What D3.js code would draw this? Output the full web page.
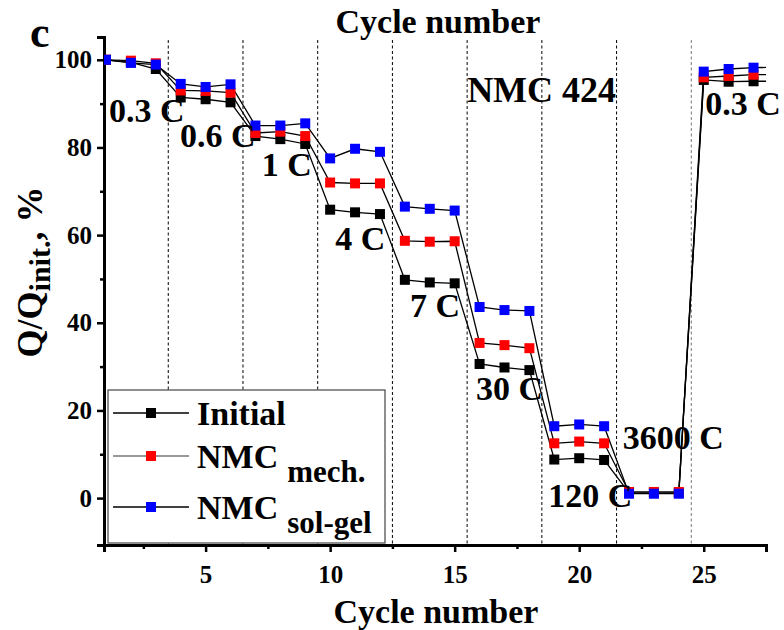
<!DOCTYPE html>
<html>
<head>
<meta charset="utf-8">
<script src="https://cdn.jsdelivr.net/npm/d3@7"></script>
<style>
  body { margin: 0; background: #fff; }
  svg { display: block; }
  text { font-family: "Liberation Serif", "Times New Roman", serif; font-weight: bold; fill: #000; }
</style>
</head>
<body>
<div id="chart"></div>
<script>
// ---------------- data ----------------
const cycles = [1,2,3,4,5,6,7,8,9,10,11,12,13,14,15,16,17,18,19,20,21,22,23,24,25,26,27,28];
const initialValues = [100,99.4,97.9,91.4,91.0,90.3,82.6,81.9,80.8,65.8,65.2,64.8,49.8,49.2,49.0,30.6,29.8,29.2,8.8,9.1,8.7,1.2,1.2,1.2,95.4,95.0,95.1,95.1];
const mechValues    = [100,99.8,99.2,93.0,92.9,92.5,83.3,83.6,82.6,72.0,71.8,71.8,58.7,58.5,58.6,35.4,34.9,34.2,12.5,12.9,12.5,1.4,1.4,1.4,96.0,96.3,96.6,96.6];
const solgelValues  = [100,99.3,98.9,94.5,93.8,94.4,85.0,85.0,85.5,77.5,79.7,79.0,66.5,66.0,65.6,43.6,42.9,42.7,16.4,16.8,16.4,1.0,1.0,1.0,97.3,97.9,98.2,98.3];
const seriesNames = ["Initial", "NMC", "NMC"];
const seriesSubs = ["", "mech.", "sol-gel"];
const seriesColors = ["#000000", "#ff0000", "#0000ff"];
const xTicks = [5, 10, 15, 20, 25];
const xMinorTicks = [2.5, 7.5, 12.5, 17.5, 22.5, 27.5];
const yTicks = [0, 20, 40, 60, 80, 100];
const yMinorTicks = [10, 30, 50, 70, 90];
const rateBoundaries = [3.5, 6.5, 9.5, 12.5, 15.5, 18.5, 21.5, 24.5];
const rateLabels = ["0.3 C", "0.6 C", "1 C", "4 C", "7 C", "30 C", "120 C", "3600 C", "0.3 C"];
const rateLabelCycle = [1.12, 3.97, 7.25, 10.2, 13.21, 15.86, 18.76, 21.75, 25.06];
const rateLabelValue = [85.8, 80.2, 73.5, 56.7, 41.4, 22.4, -2.0, 11.2, 87.4];
const materialLabel = "NMC 424";
const xTitle = "Cycle number";

// ---------------- layout ----------------
const W = 784, H = 630;
const svg = d3.select("#chart").append("svg").attr("width", W).attr("height", H);

const x = d3.scaleLinear().domain([0.92, 27.5]).range([104, 766]);
const y = d3.scaleLinear().domain([-10.7, 105.2]).range([545, 37]);

// clip
svg.append("clipPath").attr("id", "plotclip")
  .append("rect").attr("x", 104).attr("y", 30).attr("width", 662).attr("height", 515);

// dashed rate boundaries
svg.append("g").selectAll("line").data(rateBoundaries).join("line")
  .attr("x1", d => x(d)).attr("x2", d => x(d))
  .attr("y1", 40).attr("y2", y.range()[0])
  .attr("stroke", (d, i) => i === rateBoundaries.length - 1 ? "#777" : "#000")
  .attr("stroke-width", 1)
  .attr("stroke-dasharray", "3,2.5");

// axes
const xAxis = d3.axisBottom(x).tickValues(xTicks).tickSize(7).tickPadding(6).tickFormat(d3.format("d"));
const xMinor = d3.axisBottom(x).tickValues(xMinorTicks).tickSize(4).tickFormat("");
const gx = svg.append("g").attr("transform", `translate(0,${y.range()[0]})`).call(xAxis);
const gxm = svg.append("g").attr("transform", `translate(0,${y.range()[0]})`).call(xMinor);
const yAxis = d3.axisLeft(y).tickValues(yTicks).tickSize(7).tickPadding(5).tickFormat(d3.format("d"));
const yMinor = d3.axisLeft(y).tickValues(yMinorTicks).tickSize(4).tickFormat("");
const gy = svg.append("g").attr("transform", `translate(${x.range()[0]},0)`).call(yAxis);
const gym = svg.append("g").attr("transform", `translate(${x.range()[0]},0)`).call(yMinor);
[gx, gxm, gy, gym].forEach(g => {
  g.select(".domain").attr("stroke", "#000").attr("stroke-width", 3);
  g.selectAll(".tick line").attr("stroke", "#000").attr("stroke-width", 2.5);
  g.selectAll(".tick text").style("font-family", "Liberation Serif").style("font-weight", "bold").style("font-size", "25px").attr("fill", "#000");
});
gx.selectAll(".tick text").attr("dy", "1.0em");

// series
const series = [initialValues, mechValues, solgelValues];
const plot = svg.append("g").attr("clip-path", "url(#plotclip)");
const line = d3.line().x((d, i) => x(cycles[i])).y(d => y(d));
series.forEach((vals, si) => {
  plot.append("path").datum(vals).attr("d", line)
    .attr("fill", "none").attr("stroke", "#000").attr("stroke-width", 1.3);
});
series.forEach((vals, si) => {
  plot.append("g").selectAll("rect").data(vals).join("rect")
    .attr("x", (d, i) => x(cycles[i]) - 5).attr("y", d => y(d) - 5)
    .attr("width", 10).attr("height", 10)
    .attr("fill", seriesColors[si]);
});

// annotations
svg.append("g").selectAll("text").data(rateLabels).join("text")
  .attr("x", (d, i) => x(rateLabelCycle[i]))
  .attr("y", (d, i) => y(rateLabelValue[i]))
  .style("font-size", "34px")
  .text(d => d);
svg.append("text").attr("x", x(15.5)).attr("y", y(90.4)).style("font-size", "36px").text(materialLabel);

// panel label
svg.append("text").attr("x", 30).attr("y", 47).style("font-size", "44px").text("c");

// axis titles
svg.append("text").attr("x", 438).attr("y", 33).attr("text-anchor", "middle").style("font-size", "34px").text(xTitle);
svg.append("text").attr("x", 436).attr("y", 623).attr("text-anchor", "middle").style("font-size", "34px").text(xTitle);
const yl = svg.append("text").attr("transform", "translate(42,272) rotate(-90)").attr("text-anchor", "middle").style("font-size", "36px");
yl.append("tspan").text("Q/Q");
yl.append("tspan").attr("dy", 8).style("font-size", "30px").text("init.");
yl.append("tspan").attr("dy", -8).text(", %");

// legend
const lg = svg.append("g");
lg.append("rect").attr("x", 108).attr("y", 390).attr("width", 277).attr("height", 153)
  .attr("fill", "#fff").attr("stroke", "#444").attr("stroke-width", 1.2);
const rowY = [413, 456, 507];
const legendLine = ["#000", "#777", "#000"];
seriesNames.forEach((name, i) => {
  lg.append("line").attr("x1", 113).attr("x2", 189).attr("y1", rowY[i]).attr("y2", rowY[i])
    .attr("stroke", legendLine[i]).attr("stroke-width", 1.3);
  lg.append("rect").attr("x", 146).attr("y", rowY[i] - 5).attr("width", 10).attr("height", 10).attr("fill", seriesColors[i]);
  const t = lg.append("text").attr("x", 197).attr("y", rowY[i] + 12).style("font-size", "34px");
  t.append("tspan").text(name);
  if (seriesSubs[i]) t.append("tspan").attr("dx", 9).attr("dy", 14).style("font-size", "31px").text(seriesSubs[i]);
});
</script>
</body>
</html>
